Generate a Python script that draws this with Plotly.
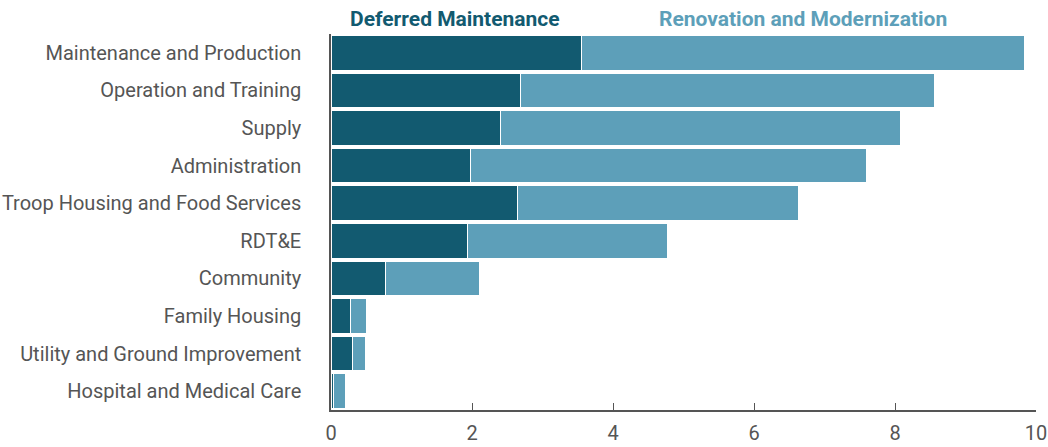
import plotly.graph_objects as go

categories = ["Maintenance and Production", "Operation and Training", "Supply", "Administration",
              "Troop Housing and Food Services", "RDT&E", "Community", "Family Housing",
              "Utility and Ground Improvement", "Hospital and Medical Care"]
deferred_maintenance = [3.55, 2.69, 2.40, 1.98, 2.65, 1.93, 0.78, 0.28, 0.30, 0.04]
renovation_modernization = [6.28, 5.87, 5.68, 5.62, 3.98, 2.85, 1.33, 0.23, 0.19, 0.16]
x_ticks = [0, 2, 4, 6, 8, 10]

DARK = "#125a70"
LIGHT = "#5d9fb9"
GRAY = "#555555"
FONT = "Roboto"

fig = go.Figure()
fig.add_trace(go.Bar(y=categories, x=deferred_maintenance, orientation="h", name="Deferred Maintenance",
                     marker=dict(color=DARK, line=dict(color="white", width=1))))
fig.add_trace(go.Bar(y=categories, x=renovation_modernization, orientation="h", name="Renovation and Modernization",
                     marker=dict(color=LIGHT, line=dict(color="white", width=1))))

fig.update_layout(
    barmode="stack", bargap=0.08,
    width=1048, height=447,
    margin=dict(l=331, r=12, t=34, b=37),
    plot_bgcolor="white", paper_bgcolor="white",
    showlegend=False,
    font=dict(family=FONT, size=20, color=GRAY),
    xaxis=dict(range=[0, 10], tickvals=x_ticks, ticks="inside", ticklen=7, tickcolor=GRAY,
               showline=True, linecolor=GRAY, linewidth=1.5, showgrid=False, zeroline=False,
               ticklabelstandoff=4, automargin=False,
               tickfont=dict(family=FONT, size=20, color=GRAY)),
    yaxis=dict(categoryorder="array", categoryarray=categories, autorange="reversed",
               showline=True, linecolor=GRAY, linewidth=1.5, showgrid=False, ticks="",
               ticklabelstandoff=24, automargin=False,
               tickfont=dict(family=FONT, size=20, color=GRAY)),
    annotations=[
        dict(text="<b>Deferred Maintenance</b>", x=1.76, y=1.0, xref="x", yref="paper",
             yanchor="bottom", yshift=1, showarrow=False, font=dict(family=FONT, size=21, color=DARK)),
        dict(text="<b>Renovation and Modernization</b>", x=6.69, y=1.0, xref="x", yref="paper",
             yanchor="bottom", yshift=1, showarrow=False, font=dict(family=FONT, size=21, color=LIGHT)),
    ],
)

fig.write_html("out.html", config={"displayModeBar": False},
               post_script="document.body.style.margin='0';document.body.style.overflow='hidden';")
